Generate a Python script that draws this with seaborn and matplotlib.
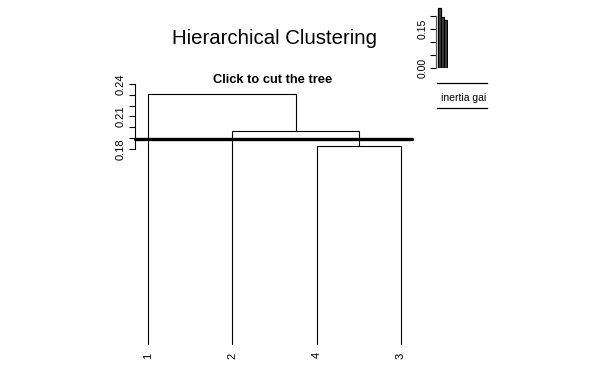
import matplotlib
matplotlib.use("Agg")
import matplotlib.pyplot as plt
import seaborn as sns
import pandas as pd

# dendrogram data (leaf order as drawn, merges as in a linkage table)
leaf_labels = ["1", "2", "4", "3"]
merge_left = ["4", "2", "1"]
merge_right = ["3", "m0", "m1"]
merge_height = [0.1828, 0.1963, 0.2305]
cut_height = 0.1892

# inertia gain inset
gain_bars = ["g1", "g2", "g3"]
gain_values = [0.2305, 0.1963, 0.1828]

yticks = [0.18, 0.19, 0.20, 0.21, 0.22, 0.23, 0.24]
ytick_labels = ["0.18", "", "", "0.21", "", "", "0.24"]
inset_ticks = [0.00, 0.05, 0.10, 0.15, 0.20]
inset_labels = ["0.00", "", "", "0.15", ""]

sns.set_style("white")
plt.rcParams["font.family"] = ["Liberation Sans", "DejaVu Sans"]
plt.rcParams["text.color"] = "black"
plt.rcParams["xtick.color"] = "black"
plt.rcParams["ytick.color"] = "black"

W, H = 599, 375
fig = plt.figure(figsize=(W / 100, H / 100), dpi=100)


def px_axes(x0, y0, x1, y1):
    return fig.add_axes([x0 / W, 1 - y1 / H, (x1 - x0) / W, (y1 - y0) / H])


# ---- dendrogram ----
ax = px_axes(135, 84, 412, 344)
pos = {lab: i + 1 for i, lab in enumerate(leaf_labels)}
hgt = {lab: 0.0 for lab in leaf_labels}
for i, (l, r, h) in enumerate(zip(merge_left, merge_right, merge_height)):
    xl, xr = pos[l], pos[r]
    ax.plot([xl, xl, xr, xr], [hgt[l], h, h, hgt[r]], color="black", lw=0.8,
            solid_joinstyle="miter", clip_on=False)
    pos[f"m{i}"] = (xl + xr) / 2
    hgt[f"m{i}"] = h

ax.axhline(cut_height, color="black", lw=2.4, clip_on=False)
ax.set_xlim(0.846, 4.13)
ax.set_ylim(0, 0.24)
for s in ["top", "right", "bottom"]:
    ax.spines[s].set_visible(False)
ax.spines["left"].set_bounds(0.18, 0.24)
ax.spines["left"].set_linewidth(0.8)
ax.spines["left"].set_color("black")
ax.set_yticks(yticks)
ax.set_yticklabels(ytick_labels, rotation=90, va="center")
ax.tick_params(axis="y", left=True, length=4, width=0.8, pad=3, labelsize=8)
ax.set_xticks(range(1, len(leaf_labels) + 1))
ax.set_xticklabels(leaf_labels, rotation=90)
ax.tick_params(axis="x", length=0, pad=6, labelsize=8)
ax.patch.set_alpha(0)

fig.text(274 / W, 1 - 39 / H, "Hierarchical Clustering", ha="center", va="center",
         fontsize=14.7)
fig.text(273 / W, 1 - 80 / H, "Click to cut the tree", ha="center", va="center",
         fontsize=9.3, fontweight="bold")

# ---- inertia gain inset ----
axi = px_axes(436, 5.5, 448, 68.3)
df = pd.DataFrame({"bar": gain_bars, "gain": gain_values})
sns.barplot(data=df, x="bar", y="gain", ax=axi, color="#444444",
            edgecolor="black", linewidth=0.9, width=1.0, saturation=1)
axi.set_xlim(-1.167, 2.833)
axi.set_ylim(0, 0.24)
for s in ["top", "right", "bottom"]:
    axi.spines[s].set_visible(False)
axi.spines["left"].set_bounds(0, 0.20)
axi.spines["left"].set_linewidth(0.9)
axi.spines["left"].set_color("#555555")
axi.set_yticks(inset_ticks)
axi.set_yticklabels(inset_labels, rotation=90, va="center")
axi.tick_params(axis="y", left=True, length=4, width=0.8, pad=2, labelsize=7.5)
axi.set_xticks([])
axi.set_xlabel("")
axi.set_ylabel("")
axi.patch.set_alpha(0)

axl = px_axes(437, 83.3, 487, 108)
axl.set_xticks([])
axl.set_yticks([])
for s in ["left", "right"]:
    axl.spines[s].set_visible(False)
for s in ["top", "bottom"]:
    axl.spines[s].set_linewidth(0.9)
    axl.spines[s].set_color("black")
axl.text(4 / 50, 0.4, "inertia gain", fontsize=7.5, va="center", ha="left",
         transform=axl.transAxes, clip_on=True)
axl.patch.set_alpha(0)

fig.savefig("out.png", dpi=100)
